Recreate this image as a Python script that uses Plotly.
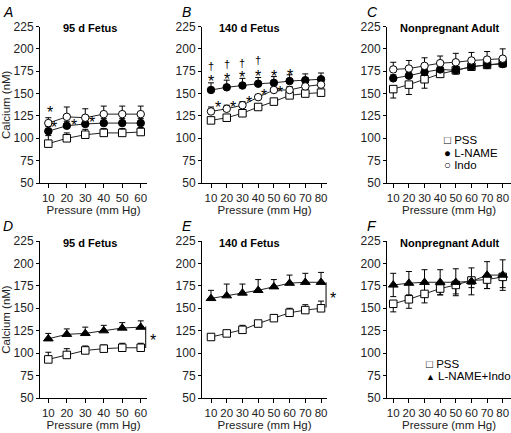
import plotly.graph_objects as go

W, H = 511, 433
FONT = "Liberation Sans, Arial, Helvetica, sans-serif"

# ---------------- data ----------------
x60 = [10, 20, 30, 40, 50, 60]
x80 = [10, 20, 30, 40, 50, 60, 70, 80]
y_ticks = [50, 75, 100, 125, 150, 175, 200, 225]

# A: 95 d fetus
a_pss = [94, 100, 104, 106, 106, 107]
a_pss_err = [9, 6, 6, 5, 5, 5]
a_lname = [108, 114, 116, 117, 117, 117]
a_lname_err = [5, 5, 5, 5, 5, 5]
a_indo = [117, 124, 123, 127, 127, 127]
a_indo_err = [6, 11, 10, 9, 9, 9]

# B: 140 d fetus
b_pss = [120, 123, 128, 135, 141, 148, 150, 151]
b_pss_err = [3, 3, 3, 3, 3, 3, 3, 4]
b_lname = [154, 157, 159, 161, 162, 164, 165, 166]
b_lname_err = [8, 8, 8, 7, 7, 7, 7, 7]
b_indo = [130, 133, 137, 146, 154, 154, 158, 160]
b_indo_err = [5, 4, 4, 3, 3, 4, 4, 4]

# C: nonpregnant adult
c_pss = [155, 160, 166, 172, 176, 180, 182, 184]
c_pss_err_down = [10, 11, 10, 4, 4, 4, 4, 4]
c_lname = [167, 170, 174, 177, 176, 180, 182, 183]
c_lname_err = [4, 4, 4, 4, 4, 4, 4, 4]
c_indo = [177, 178, 181, 184, 185, 187, 188, 189]
c_indo_err = [8, 9, 9, 8, 10, 9, 9, 11]

# D: 95 d fetus
d_pss = [93, 98, 103, 105, 106, 106]
d_pss_err = [8, 7, 5, 4, 5, 5]
d_li = [116, 121, 122, 125, 128, 129]
d_li_err = [6, 6, 7, 6, 6, 7]

# E: 140 d fetus
e_pss = [118, 122, 126, 133, 139, 145, 148, 150]
e_pss_err = [3, 2, 5, 3, 4, 5, 6, 8]
e_li = [161, 164, 167, 170, 174, 178, 179, 179]
e_li_err = [9, 13, 10, 12, 8, 9, 10, 11]

# F: nonpregnant adult
f_pss = [155, 160, 166, 172, 176, 181, 182, 185]
f_pss_err_down = [9, 10, 10, 7, 10, 8, 10, 12]
f_li = [176, 178, 179, 179, 179, 180, 187, 187]
f_li_err = [13, 13, 14, 14, 15, 15, 15, 17]

# significance marks (x, y)
a_stars = [(11, 133), (13.2, 117), (24, 119), (33.7, 121.6)]
b_daggers = [(10, 181), (20, 183), (30, 184), (40, 187)]
b_stars = [(10, 168.5), (20, 170.7), (30, 172), (40, 174), (50, 174), (60, 175),
           (14.5, 138.6), (24, 138.6), (34, 145), (43.7, 152), (54, 156)]

titles = ["95 d Fetus", "140 d Fetus", "Nonpregnant Adult",
          "95 d Fetus", "140 d Fetus", "Nonpregnant Adult"]
letters = ["A", "B", "C", "D", "E", "F"]

# ---------------- layout geometry (pixels) ----------------
cols_px = [(40, 147), (202, 327), (387, 511)]
rows_px = [(26.5, 183), (241, 398)]
xranges = [[5.5, 63.4], [4.27, 83.8], [6.0, 85.3]]
title_fx = [0.467, 0.376, 0.51]

fig = go.Figure()


def ax_ids(i):
    s = "" if i == 1 else str(i)
    return "x" + s, "y" + s


def err_trace(i, x, y, up, down=None, sym=False):
    xa, ya = ax_ids(i)
    if sym:
        ey = dict(type="data", array=up, symmetric=True, color="black", thickness=1, width=3)
    elif down is not None:
        ey = dict(type="data", array=[0] * len(x), arrayminus=down, symmetric=False,
                  color="black", thickness=1, width=3)
    else:
        ey = dict(type="data", array=up, arrayminus=[0] * len(x), symmetric=False,
                  color="black", thickness=1, width=3)
    fig.add_trace(go.Scatter(x=x, y=y, mode="markers", marker=dict(size=2, opacity=0),
                             error_y=ey, xaxis=xa, yaxis=ya, showlegend=False,
                             hoverinfo="skip"))


def series(i, x, y, symbol, fill, name, size=7.5):
    xa, ya = ax_ids(i)
    fig.add_trace(go.Scatter(x=x, y=y, mode="lines+markers", name=name,
                             line=dict(color="#222", width=1),
                             marker=dict(symbol=symbol, size=size, color=fill,
                                         line=dict(color="black", width=1)),
                             xaxis=xa, yaxis=ya, showlegend=False))


# error bars first (so markers cover caps)
err_trace(1, x60, a_pss, a_pss_err)
err_trace(1, x60, a_lname, a_lname_err)
err_trace(1, x60, a_indo, a_indo_err)
err_trace(2, x80, b_pss, b_pss_err)
err_trace(2, x80, b_lname, b_lname_err)
err_trace(2, x80, b_indo, b_indo_err)
err_trace(3, x80, c_pss, None, down=c_pss_err_down)
err_trace(3, x80, c_lname, c_lname_err)
err_trace(3, x80, c_indo, c_indo_err)
err_trace(4, x60, d_pss, d_pss_err)
err_trace(4, x60, d_li, d_li_err)
err_trace(5, x80, e_pss, e_pss_err)
err_trace(5, x80, e_li, e_li_err)
err_trace(6, x80, f_pss, None, down=f_pss_err_down)
err_trace(6, x80, f_li, f_li_err, sym=True)

series(1, x60, a_pss, "square", "white", "PSS")
series(1, x60, a_lname, "circle", "black", "L-NAME")
series(1, x60, a_indo, "circle", "white", "Indo")
series(2, x80, b_pss, "square", "white", "PSS")
series(2, x80, b_lname, "circle", "black", "L-NAME")
series(2, x80, b_indo, "circle", "white", "Indo")
series(3, x80, c_pss, "square", "white", "PSS")
series(3, x80, c_lname, "circle", "black", "L-NAME")
series(3, x80, c_indo, "circle", "white", "Indo")
series(4, x60, d_pss, "square", "white", "PSS")
series(4, x60, d_li, "triangle-up", "black", "L-NAME+Indo", 8.5)
series(5, x80, e_pss, "square", "white", "PSS")
series(5, x80, e_li, "triangle-up", "black", "L-NAME+Indo", 8.5)
series(6, x80, f_pss, "square", "white", "PSS")
series(6, x80, f_li, "triangle-up", "black", "L-NAME+Indo", 8.5)

annotations = []
layout = {}
for i in range(1, 7):
    r = (i - 1) // 3
    c = (i - 1) % 3
    x0, x1 = cols_px[c]
    top, bot = rows_px[r]
    s = "" if i == 1 else str(i)
    ticks_x = x60 if c == 0 else x80
    layout["xaxis" + s] = dict(
        domain=[x0 / W, x1 / W], range=xranges[c], anchor="y" + s,
        tickvals=ticks_x, ticks="outside", ticklen=4, tickcolor="black",
        showline=True, linecolor="black", linewidth=1, showgrid=False, zeroline=False,
        tickfont=dict(family=FONT, size=11.5, color="#222"),
        title=dict(text="Pressure (mm Hg)", font=dict(family=FONT, size=11.5, color="#222"),
                   standoff=3),
        automargin=False,
    )
    layout["yaxis" + s] = dict(
        domain=[1 - bot / H, 1 - top / H], range=[50, 225], anchor="x" + s,
        tickvals=y_ticks, ticks="outside", ticklen=3, tickcolor="black",
        showline=True, linecolor="black", linewidth=1, showgrid=False, zeroline=False,
        tickfont=dict(family=FONT, size=12, color="#222"),
        title=dict(text="Calcium (nM)" if c == 0 else "",
                   font=dict(family=FONT, size=11.5, color="#222"), standoff=0),
        automargin=False,
    )
    xa, ya = ax_ids(i)
    annotations.append(dict(text="<b>" + titles[i - 1] + "</b>", xref=xa + " domain",
                            yref=ya + " domain", x=title_fx[c], y=1, xanchor="center",
                            yanchor="middle", yshift=-2, showarrow=False,
                            font=dict(family=FONT, size=11, color="black")))
    annotations.append(dict(text="<i>" + letters[i - 1] + "</i>", xref="paper", yref="paper",
                            x=(x0 - 40 + 1) / W if c == 0 else (x0 - 22) / W,
                            y=1 - (2 if r == 0 else 216) / H,
                            xanchor="left", yanchor="top", showarrow=False,
                            font=dict(family=FONT, size=14, color="black")))


def mark(i, x, y, text, size=16, yshift=0, xshift=0, xanchor="center"):
    xa, ya = ax_ids(i)
    annotations.append(dict(text=text, x=x, y=y, xref=xa, yref=ya, showarrow=False,
                            xanchor=xanchor, yanchor="middle", yshift=yshift, xshift=xshift,
                            font=dict(family=FONT, size=size, color="black")))


for (x, y) in a_stars:
    mark(1, x, y, "*", yshift=-4)
for (x, y) in b_stars:
    mark(2, x, y, "*", yshift=-4)
for (x, y) in b_daggers:
    mark(2, x, y, "†", size=11)

# brackets with star (D, E)
for i, xb, ylo, yhi in [(4, 62.7, 105.7, 131.4), (5, 83.2, 150.8, 180.7)]:
    xa, ya = ax_ids(i)
    annotations.append(dict(text="", x=xb, y=ylo, ax=xb, ay=yhi, xref=xa, yref=ya,
                            axref=xa, ayref=ya, showarrow=True, arrowhead=0,
                            arrowwidth=1, arrowcolor="black", standoff=0, startstandoff=0))
    mark(i, xb, (ylo + yhi) / 2, "*", yshift=-4, xshift=2, xanchor="left")

# legends (C and F): one row per entry
legend_c = ["□ PSS", "● L-NAME", "○ Indo"]
legend_c_y = [0.282, 0.202, 0.122]
for lab, yy in zip(legend_c, legend_c_y):
    annotations.append(dict(text=lab, xref="x3 domain", yref="y3 domain", x=0.445, y=yy,
                            xanchor="left", yanchor="middle", showarrow=False, yshift=-1.5,
                            font=dict(family=FONT, size=11.5, color="black")))
legend_f = ["□ PSS", "<span style='font-size:9px'>▲</span> L-NAME+Indo"]
legend_f_y = [0.232, 0.150]
for lab, yy in zip(legend_f, legend_f_y):
    annotations.append(dict(text=lab, xref="x6 domain", yref="y6 domain", x=0.3, y=yy,
                            xanchor="left", yanchor="middle", showarrow=False, yshift=-2,
                            font=dict(family=FONT, size=11.5, color="black")))

fig.update_layout(**layout)
fig.update_layout(width=W, height=H, margin=dict(l=0, r=0, t=0, b=0),
                  paper_bgcolor="white", plot_bgcolor="white", showlegend=False,
                  annotations=annotations, font=dict(family=FONT))
fig.write_html("out.html", config={"displayModeBar": False},
               post_script="document.body.style.margin='0px';"
                           "document.documentElement.style.overflow='hidden';")
